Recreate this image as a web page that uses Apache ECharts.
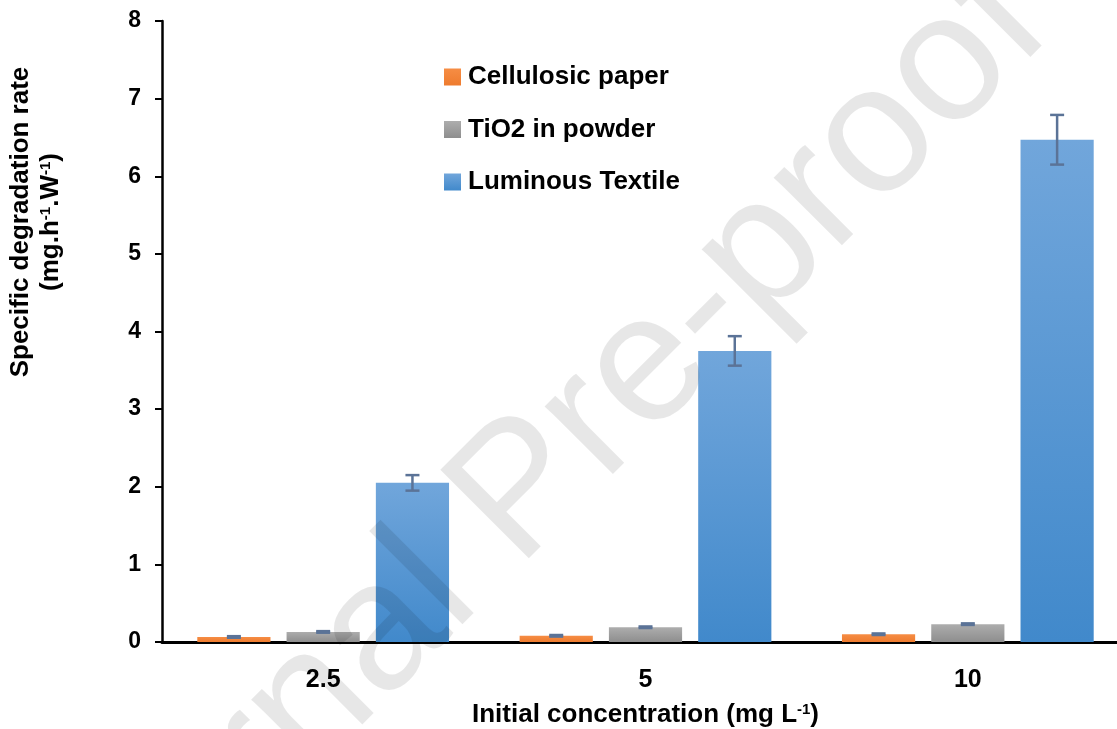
<!DOCTYPE html>
<html>
<head>
<meta charset="utf-8">
<script src="https://cdn.jsdelivr.net/npm/echarts@6/dist/echarts.min.js"></script>
<style>
html,body{margin:0;padding:0;background:#fff;}
#chart{width:1117px;height:729px;}
</style>
</head>
<body>
<div id="chart"></div>
<script>
var categories = ['2.5', '5', '10'];
var seriesNames = ['Cellulosic paper', 'TiO2 in powder', 'Luminous Textile'];
var cellulosic = [0.065, 0.08, 0.10];
var cellulosicErr = [0.01, 0.01, 0.01];
var tio2 = [0.13, 0.19, 0.23];
var tio2Err = [0.01, 0.01, 0.01];
var textile = [2.05, 3.75, 6.47];
var textileErr = [0.10, 0.19, 0.32];
var yTicks = [0, 1, 2, 3, 4, 5, 6, 7, 8];

var values = [cellulosic, tio2, textile];
var errors = [cellulosicErr, tio2Err, textileErr];

function grad(top, bottom) {
  return new echarts.graphic.LinearGradient(0, 0, 0, 1, [
    {offset: 0, color: top}, {offset: 1, color: bottom}
  ]);
}
var fills = [
  grad('#F68D44', '#EE7B2E'),
  grad('#ADADAD', '#8E8E8E'),
  grad('#71A6DB', '#4189CB')
];

var CAT_GAP = 0.219, BAR_GAP = 0.22, N = 3;

var series = [];
for (var s = 0; s < 3; s++) {
  series.push({
    name: seriesNames[s],
    type: 'bar',
    data: values[s],
    barGap: (BAR_GAP * 100) + '%',
    barCategoryGap: (CAT_GAP * 100) + '%',
    itemStyle: {color: fills[s]}
  });
}
for (var s2 = 0; s2 < 3; s2++) {
  (function (idx) {
    var data = categories.map(function (c, i) {
      return [i, values[idx][i] - errors[idx][i], values[idx][i] + errors[idx][i]];
    });
    series.push({
      type: 'custom',
      name: seriesNames[idx] + ' error',
      z: 5,
      silent: true,
      data: data,
      renderItem: function (params, api) {
        var ci = api.value(0);
        var lo = api.coord([ci, api.value(1)]);
        var hi = api.coord([ci, api.value(2)]);
        var band = api.size([1, 0])[0];
        var bw = band * (1 - CAT_GAP) / (N + (N - 1) * BAR_GAP);
        var x = lo[0] + (idx - (N - 1) / 2) * bw * (1 + BAR_GAP);
        var cap = 7;
        var st = {stroke: '#5B7397', lineWidth: 2.5};
        return {
          type: 'group',
          children: [
            {type: 'line', shape: {x1: x, y1: hi[1], x2: x, y2: lo[1]}, style: st},
            {type: 'line', shape: {x1: x - cap, y1: hi[1], x2: x + cap, y2: hi[1]}, style: st},
            {type: 'line', shape: {x1: x - cap, y1: lo[1], x2: x + cap, y2: lo[1]}, style: st}
          ]
        };
      }
    });
  })(s2);
}

var font = '"Liberation Sans", Arial, sans-serif';
var chart = echarts.init(document.getElementById('chart'), null, {renderer: 'canvas'});
chart.setOption({
  animation: false,
  backgroundColor: '#fff',
  textStyle: {fontFamily: font},
  grid: {left: 162, right: -12, top: 21, bottom: 87, containLabel: false, outerBoundsMode: 'none'},
  legend: {
    orient: 'vertical',
    left: 439,
    top: 59,
    itemWidth: 17,
    itemHeight: 17,
    itemGap: 26.5,
    icon: 'rect',
    data: seriesNames,
    textStyle: {fontFamily: font, fontSize: 26, fontWeight: 'bold', color: '#000', padding: [0, 0, 0, 2]}
  },
  xAxis: {
    type: 'category',
    data: categories,
    axisLine: {lineStyle: {color: '#000', width: 3}},
    axisTick: {show: false},
    axisLabel: {fontFamily: font, fontSize: 25, fontWeight: 'bold', color: '#000', margin: 26},
    name: 'Initial concentration (mg L{sup|-1})',
    nameLocation: 'middle',
    nameGap: 60,
    nameTextStyle: {
      fontFamily: font, fontSize: 26, fontWeight: 'bold', color: '#000',
      rich: {sup: {fontFamily: font, fontSize: 15, fontWeight: 'bold', color: '#000', padding: [0, 0, 10, 0]}}
    }
  },
  yAxis: {
    type: 'value',
    min: 0, max: 8, interval: 1,
    splitLine: {show: false},
    axisLine: {show: true, lineStyle: {color: '#000', width: 2.5}},
    axisTick: {show: true, length: 7, lineStyle: {color: '#000', width: 2}},
    axisLabel: {fontFamily: font, fontSize: 23, fontWeight: 'bold', color: '#000', margin: 21,
      formatter: function (v) { return yTicks.indexOf(v) >= 0 ? String(v) : ''; }},
    name: 'Specific degradation rate\n(mg.h{sup|-1}.W{sup|-1})',
    nameLocation: 'middle',
    nameGap: 96,
    nameRotate: 90,
    nameTextStyle: {
      fontFamily: font, fontSize: 26, fontWeight: 'bold', color: '#000', lineHeight: 30,
      padding: [0, 0, 0, 219],
      rich: {sup: {fontFamily: font, fontSize: 15, fontWeight: 'bold', color: '#000', lineHeight: 30, padding: [0, 0, 10, 0]}}
    }
  },
  graphic: [{
    type: 'text',
    z: 100,
    silent: true,
    x: 522, y: 494,
    rotation: 0.785,
    style: {
      text: 'Journal Pre-proof',
      font: '182px "Liberation Sans", Arial, sans-serif',
      fill: 'rgba(0,0,0,0.095)',
      align: 'center',
      verticalAlign: 'middle'
    }
  }],
  series: series
});
</script>
</body>
</html>
